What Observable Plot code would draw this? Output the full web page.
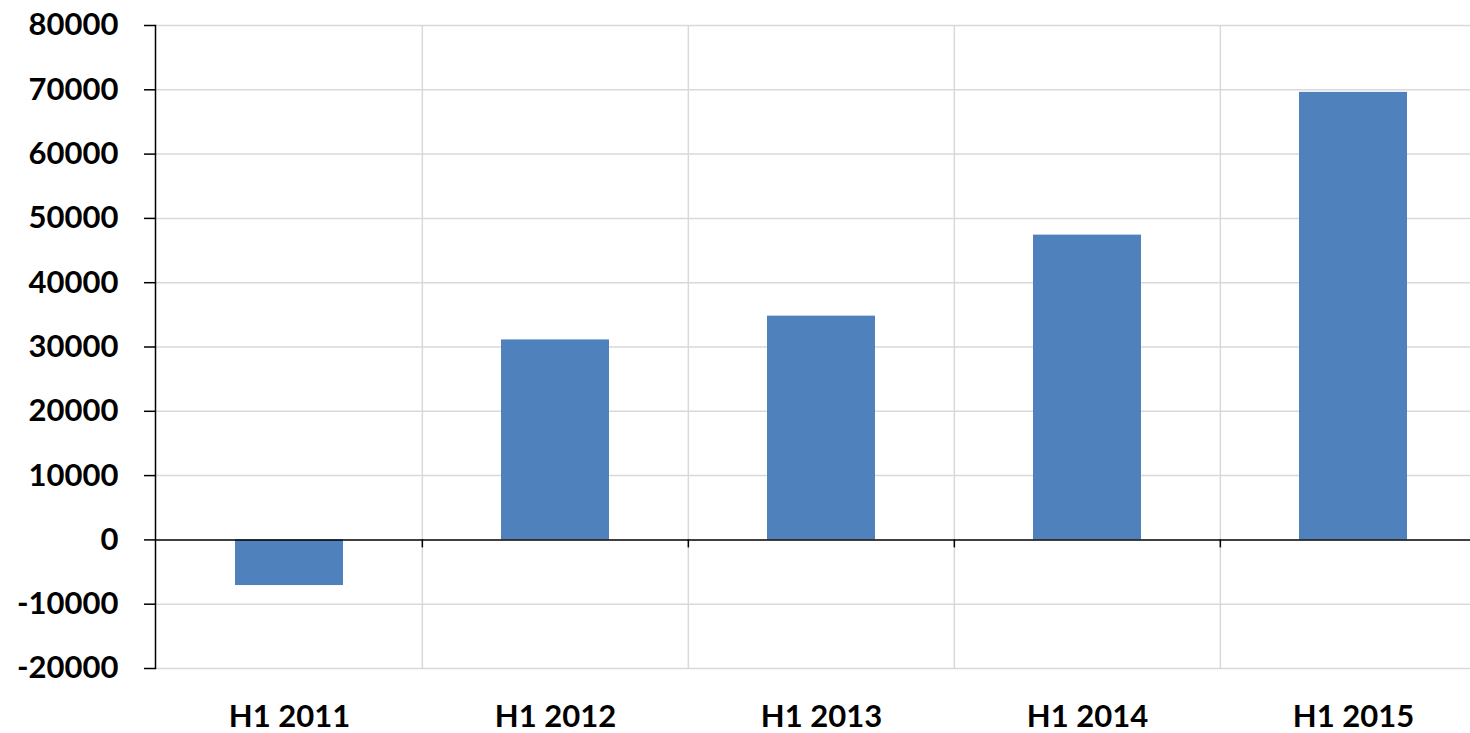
<!DOCTYPE html>
<html>
<head>
<meta charset="utf-8">
<script src="https://cdn.jsdelivr.net/npm/d3@7"></script>
<script src="https://cdn.jsdelivr.net/npm/@observablehq/plot@0.6"></script>
<style>
  html, body { margin: 0; padding: 0; background: #fff; overflow: hidden; }
</style>
</head>
<body>
<div id="chart"></div>
<script>
const categories = ["H1 2011", "H1 2012", "H1 2013", "H1 2014", "H1 2015"];
const values = [-7100, 31100, 34800, 47400, 69600];
const yTicks = [-20000, -10000, 0, 10000, 20000, 30000, 40000, 50000, 60000, 70000, 80000];

const data = categories.map((c, i) => ({category: c, value: values[i]}));

const xOpts = {type: "band", domain: categories, range: [155, 1486.5], paddingInner: 0.594, paddingOuter: 0.297};
const xScale = Plot.scale({x: xOpts});
const halfStep = xScale.step / 2;

const chart = Plot.plot({
  width: 1470,
  height: 733,
  marginLeft: 155,
  marginRight: 0,
  marginTop: 25,
  marginBottom: 65,
  style: {fontFamily: "Lato, 'Open Sans', sans-serif", fontSize: "31px", fontWeight: "bold", color: "#000", overflow: "hidden", background: "#fff"},
  x: {...xOpts, label: null},
  y: {domain: [-20000, 80000], label: null},
  marks: [
    Plot.ruleY(yTicks.filter(d => d !== 0), {stroke: "#d9d9d9", strokeWidth: 1.5}),
    Plot.ruleX(categories.slice(1), {x: d => d, dx: -halfStep, stroke: "#d9d9d9", strokeWidth: 1.5}),
    Plot.barY(data, {x: "category", y: "value", fill: "#4f81bd"}),
    Plot.ruleY([0], {stroke: "#000", strokeWidth: 1.5}),
    Plot.ruleX(categories.slice(1), {x: d => d, dx: -halfStep, y1: 0, y2: 0, insetBottom: -8, stroke: "#000", strokeWidth: 1.5}),
    Plot.frame({anchor: "left", stroke: "#000", strokeWidth: 1.5}),
    Plot.axisY({ticks: yTicks, tickFormat: d => String(d), tickSize: 11, tickPadding: 26, stroke: "#000", strokeWidth: 1.5, label: null}),
    Plot.axisX({tickSize: 0, tickPadding: 36, label: null})
  ]
});
document.getElementById("chart").append(chart);
</script>
</body>
</html>
